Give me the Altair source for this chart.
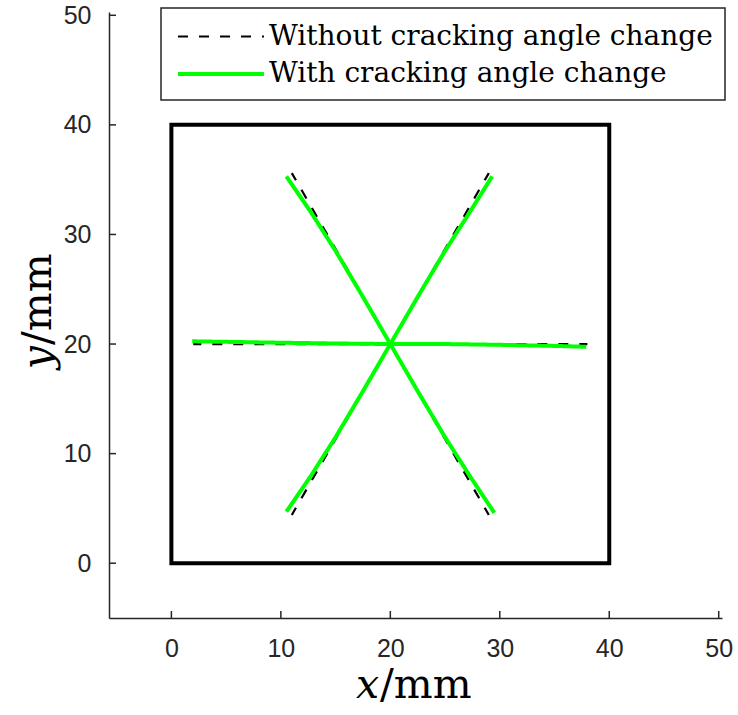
import altair as alt
import pandas as pd

# ---- data ----
series_names = ["Without cracking angle change", "With cracking angle change"]

box_x = [0, 40, 40, 0, 0]
box_y = [0, 0, 40, 40, 0]

# straight cracks (dashed), each arm from the centre to its tip
dash_arm_x = {
    "r": [20, 38], "ur": [20, 29], "ul": [20, 11],
    "l": [20, 2], "ll": [20, 11], "lr": [20, 29],
}
dash_arm_y = {
    "r": [20, 20], "ur": [20, 35.6], "ul": [20, 35.6],
    "l": [20, 20], "ll": [20, 4.4], "lr": [20, 4.4],
}

# curved cracks (green)
green_arm_x = {
    "r": [20, 25, 30, 35, 37.9],
    "ur": [20, 22.5, 25, 27.3, 29.3],
    "ul": [20, 17.5, 15, 12.7, 10.5],
    "l": [20, 15, 10, 5, 1.9],
    "ll": [20, 17.5, 15, 12.7, 10.5],
    "lr": [20, 22.5, 25, 27.3, 29.5],
}
green_arm_y = {
    "r": [20, 20.0, 19.93, 19.83, 19.75],
    "ur": [20, 24.3, 28.5, 32.1, 35.3],
    "ul": [20, 24.3, 28.5, 32.1, 35.3],
    "l": [20, 20.05, 20.12, 20.2, 20.25],
    "ll": [20, 15.7, 11.5, 7.9, 4.7],
    "lr": [20, 15.7, 11.5, 7.9, 4.6],
}

x_ticks = [0, 10, 20, 30, 40, 50]
y_ticks = [0, 10, 20, 30, 40, 50]

# ---- tables ----
def arms_table(xs, ys, name):
    rows = []
    for arm in xs:
        for i, (xv, yv) in enumerate(zip(xs[arm], ys[arm])):
            rows.append({"arm": arm, "i": i, "x": xv, "y": yv, "series": name})
    return pd.DataFrame(rows)

dash_df = arms_table(dash_arm_x, dash_arm_y, series_names[0])
green_df = arms_table(green_arm_x, green_arm_y, series_names[1])
box_df = pd.DataFrame({"x": box_x, "y": box_y, "i": list(range(len(box_x)))})
xt_df = pd.DataFrame({"v": x_ticks})
yt_df = pd.DataFrame({"v": y_ticks})
one = pd.DataFrame({"a": [0]})

W, H = 613, 606
AX = "#262626"

xscale = alt.Scale(domain=[-5.7, 50.3], nice=False, zero=False)
yscale = alt.Scale(domain=[-5, 50.3], nice=False, zero=False)

xaxis = alt.Axis(values=x_ticks, ticks=False, grid=False, title=None,
                 labelFont="Liberation Sans", labelFontSize=25, labelColor=AX,
                 labelPadding=18, domainColor=AX, domainWidth=1.5)
yaxis = alt.Axis(values=y_ticks, ticks=False, grid=False, title=None,
                 labelFont="Liberation Sans", labelFontSize=25, labelColor=AX,
                 labelPadding=18, domainColor=AX, domainWidth=1.5)

color_enc = alt.Color("series:N", scale=alt.Scale(domain=series_names, range=["black", "#00ff00"]),
                      legend=alt.Legend(title=None))
dash_enc = alt.StrokeDash("series:N", scale=alt.Scale(domain=series_names, range=[[10, 11], [1, 0]]),
                          legend=alt.Legend(title=None))
width_enc = alt.StrokeWidth("series:N", scale=alt.Scale(domain=series_names, range=[2.2, 4]),
                            legend=alt.Legend(title=None))

box = alt.Chart(box_df).mark_line(color="black", strokeWidth=4, strokeCap="square").encode(
    x=alt.X("x:Q", scale=xscale, axis=xaxis),
    y=alt.Y("y:Q", scale=yscale, axis=yaxis),
    order="i:O",
)

dashed = alt.Chart(dash_df).mark_line().encode(
    x=alt.X("x:Q", scale=xscale),
    y=alt.Y("y:Q", scale=yscale),
    detail="arm:N", order="i:O",
    color=color_enc, strokeDash=dash_enc, strokeWidth=width_enc,
)

green = alt.Chart(green_df).mark_line().encode(
    x=alt.X("x:Q", scale=xscale),
    y=alt.Y("y:Q", scale=yscale),
    detail="arm:N", order="i:O",
    color=color_enc, strokeDash=dash_enc, strokeWidth=width_enc,
)

xt = alt.Chart(xt_df).mark_rule(color=AX, strokeWidth=1.5).encode(
    x=alt.X("v:Q", scale=xscale), y=alt.value(H), y2=alt.value(H - 7))
yt = alt.Chart(yt_df).mark_rule(color=AX, strokeWidth=1.5).encode(
    y=alt.Y("v:Q", scale=yscale), x=alt.value(0), x2=alt.value(7))

TF = "DejaVu Serif"
xl1 = alt.Chart(one).mark_text(text="x", font=TF, fontSize=41, fontStyle="italic",
                               align="right", baseline="alphabetic", color="black").encode(
    x=alt.value(270), y=alt.value(686))
xl2 = alt.Chart(one).mark_text(text="/mm", font=TF, fontSize=41,
                               align="left", baseline="alphabetic", color="black").encode(
    x=alt.value(271), y=alt.value(686))
yl1 = alt.Chart(one).mark_text(text="y", font=TF, fontSize=41, fontStyle="italic", angle=270,
                               align="right", baseline="alphabetic", color="black").encode(
    x=alt.value(-58), y=alt.value(334))
yl2 = alt.Chart(one).mark_text(text="/mm", font=TF, fontSize=41, angle=270,
                               align="left", baseline="alphabetic", color="black").encode(
    x=alt.value(-58), y=alt.value(333))

chart = alt.layer(box, dashed, green, xt, yt, xl1, xl2, yl1, yl2).properties(
    width=W, height=H,
    padding={"left": 109, "top": 12, "right": 16, "bottom": 97},
    autosize=alt.AutoSizeParams(type="none"),
).configure_view(stroke=None).configure_legend(
    orient="none", legendX=52, legendY=-4,
    symbolType="M-0.8,0H4.93", symbolSize=30 * 30,
    labelFont=TF, labelFontSize=28, labelColor="black", labelLimit=1000,
    labelOffset=62,
    strokeColor=AX, strokeWidth=1.5, fillColor="white", padding=12, rowPadding=6, cornerRadius=0,
)

chart.save("out.html", embed_options={"renderer": "svg", "actions": False})
